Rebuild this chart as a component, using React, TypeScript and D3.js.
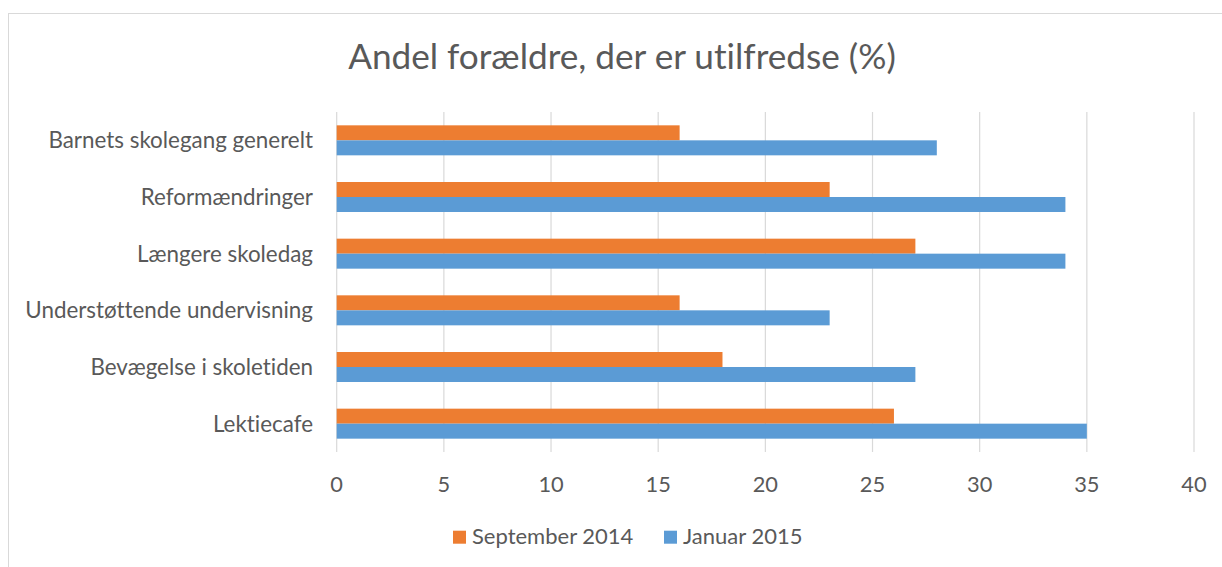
import React from "react";
import * as d3 from "d3";

const categories = [
  "Barnets skolegang generelt",
  "Reformændringer",
  "Længere skoledag",
  "Understøttende undervisning",
  "Bevægelse i skoletiden",
  "Lektiecafe",
];
const september2014 = [16, 23, 27, 16, 18, 26];
const januar2015 = [28, 34, 34, 23, 27, 35];
const xTicks = [0, 5, 10, 15, 20, 25, 30, 35, 40];
const seriesNames = ["September 2014", "Januar 2015"];
const seriesColors = ["#ED7D31", "#5B9BD5"];

const W = 1222;
const H = 567;
const FONT = "Lato, 'Liberation Sans', sans-serif";
const TEXT = "#595959";

export default function App() {
  const x = d3.scaleLinear().domain([0, 40]).range([336.7, 1194]);
  const y = d3.scaleBand<string>().domain(categories).range([112, 452]).paddingInner(0).paddingOuter(0);
  const barH = 15;
  const series = [september2014, januar2015];

  return (
    <svg
      width={W}
      height={H}
      style={{ position: "fixed", left: 0, top: 0, background: "#fff", fontVariantLigatures: "none" }}
      fontFamily={FONT}
    >
      <rect x={0} y={0} width={W} height={H} fill="#fff" />
      <rect x={8.5} y={13.5} width={1300} height={700} fill="none" stroke="#D9D9D9" strokeWidth={1} />
      <text x={622} y={69} textAnchor="middle" fontSize={35.2} fill={TEXT}>
        Andel forældre, der er utilfredse (%)
      </text>
      {xTicks.map((t) => (
        <g key={t}>
          <line x1={x(t)} x2={x(t)} y1={112} y2={452} stroke="#D9D9D9" strokeWidth={1.2} />
          <text x={x(t)} y={492} textAnchor="middle" fontSize={21.8} fill={TEXT}>
            {t}
          </text>
        </g>
      ))}
      {categories.map((c, i) => {
        const cy = (y(c) as number) + y.bandwidth() / 2;
        return (
          <g key={c}>
            {series.map((s, k) => (
              <rect
                key={k}
                x={x(0)}
                y={cy - barH + k * barH}
                width={x(s[i]) - x(0)}
                height={barH}
                fill={seriesColors[k]}
              />
            ))}
            <text x={313} y={cy + 8} textAnchor="end" fontSize={22.4} fill={TEXT}>
              {c}
            </text>
          </g>
        );
      })}
      {seriesNames.map((n, k) => {
        const lx = [453, 664][k];
        return (
          <g key={n}>
            <rect x={lx} y={530.7} width={13} height={13} fill={seriesColors[k]} />
            <text x={lx + 19} y={544} fontSize={22} fill={TEXT}>
              {n}
            </text>
          </g>
        );
      })}
    </svg>
  );
}
